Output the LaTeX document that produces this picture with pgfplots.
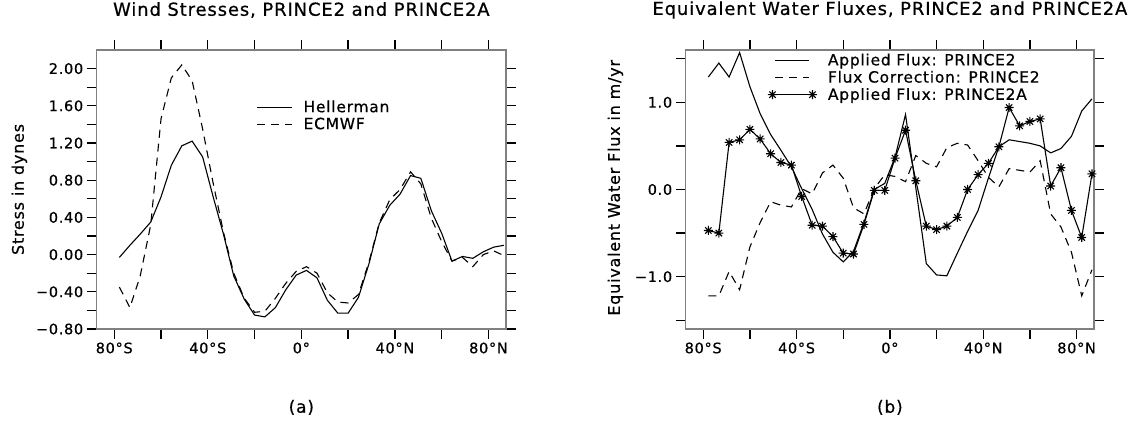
\documentclass[border=0pt]{standalone}
\usepackage{fontspec}
\setmainfont{DejaVu Sans}[LetterSpace=5, FakeBold=0.6]
\usepackage{pgfplots}
\pgfplotsset{compat=1.18}
\usepackage{pgfplotstable}

\pgfdeclareplotmark{ast8}{%
 \pgfpathmoveto{\pgfqpoint{-\pgfplotmarksize}{0pt}}\pgfpathlineto{\pgfqpoint{\pgfplotmarksize}{0pt}}%
 \pgfpathmoveto{\pgfqpoint{0pt}{-\pgfplotmarksize}}\pgfpathlineto{\pgfqpoint{0pt}{\pgfplotmarksize}}%
 \pgfpathmoveto{\pgfqpoint{-0.707\pgfplotmarksize}{-0.707\pgfplotmarksize}}\pgfpathlineto{\pgfqpoint{0.707\pgfplotmarksize}{0.707\pgfplotmarksize}}%
 \pgfpathmoveto{\pgfqpoint{-0.707\pgfplotmarksize}{0.707\pgfplotmarksize}}\pgfpathlineto{\pgfqpoint{0.707\pgfplotmarksize}{-0.707\pgfplotmarksize}}%
 \pgfusepathqstroke}

\pgfplotstableread{
lat   hel   ecm   ap2   fc2   ap2a
-77.8 -0.03 -0.35 1.29 -1.22 -0.47
-73.3 0.10 -0.57 1.45 -1.22 -0.50
-68.9 0.22 -0.23 1.29 -0.94 0.54
-64.4 0.35 0.32 1.57 -1.15 0.57
-60.0 0.62 1.46 1.18 -0.66 0.69
-55.6 0.96 1.90 0.87 -0.38 0.58
-51.1 1.17 2.04 0.63 -0.14 0.41
-46.7 1.22 1.87 0.45 -0.18 0.31
-42.2 1.05 1.35 0.26 -0.20 0.28
-37.8 0.63 0.78 0.01 0.01 -0.08
-33.3 0.22 0.24 -0.23 -0.05 -0.41
-28.9 -0.23 -0.20 -0.51 0.19 -0.42
-24.4 -0.48 -0.47 -0.72 0.28 -0.54
-20.0 -0.65 -0.62 -0.83 0.13 -0.73
-15.6 -0.67 -0.61 -0.71 -0.21 -0.74
-11.1 -0.57 -0.47 -0.38 -0.28 -0.40
-6.7 -0.38 -0.31 0.00 0.01 -0.01
-2.2 -0.22 -0.18 0.07 0.17 -0.01
2.2 -0.17 -0.13 0.37 0.15 0.36
6.7 -0.25 -0.20 0.86 0.09 0.68
11.1 -0.49 -0.41 0.02 0.39 0.10
15.6 -0.63 -0.51 -0.85 0.30 -0.42
20.0 -0.63 -0.52 -0.98 0.26 -0.46
24.4 -0.46 -0.43 -0.99 0.48 -0.42
28.9 -0.10 -0.08 -0.73 0.53 -0.32
33.3 0.33 0.34 -0.48 0.51 0.00
37.8 0.53 0.59 -0.24 0.33 0.17
42.2 0.65 0.70 0.13 0.14 0.30
46.7 0.85 0.89 0.49 0.03 0.49
51.1 0.82 0.76 0.57 0.24 0.94
55.6 0.47 0.39 0.55 0.22 0.73
60.0 0.23 0.14 0.53 0.20 0.78
64.4 -0.07 -0.07 0.50 0.33 0.81
68.9 -0.02 -0.03 0.42 -0.28 0.04
73.3 -0.04 -0.13 0.47 -0.43 0.25
77.8 0.03 0.00 0.61 -0.72 -0.24
82.2 0.08 0.04 0.90 -1.22 -0.55
86.6 0.10 -0.01 1.04 -0.92 0.18
}\datatable

\pgfplotsset{
  panel/.style={
    scale only axis, height=279bp,
    xmin=-87.5, xmax=87.5,
    xtick={-80,-60,...,80},
    xticklabels={80°S,,40°S,,0°,,40°N,,80°N},
    tick align=outside, xtick pos=both, ytick pos=both,
    major tick length=10bp, minor tick length=10bp,
    every tick/.style={black, line width=1.3bp},
    axis line style={gray, line width=1.3bp},
    tick label style={font=\fontsize{14.5}{16}\selectfont},
    title style={font=\fontsize{18}{20}\selectfont, anchor=center},
    ylabel style={font=\fontsize{16}{18}\selectfont, anchor=center},
    xlabel style={font=\fontsize{17}{19}\selectfont, anchor=center},
    legend style={draw=none, fill=none, anchor=north west, font=\fontsize{15.5}{17}\selectfont, inner sep=0pt, column sep=9bp, nodes={inner sep=2bp}},
    legend cell align=left,
  },
  curve/.style={black, line width=1.1bp},
  dcurve/.style={black, line width=1.1bp, dash pattern=on 8bp off 6bp},
  leftleg/.style={legend image code/.code={\draw[##1] (0bp,0bp) -- (35bp,0bp);}},
  lineleg/.style={legend image code/.code={\draw[##1] (3bp,0bp) -- (37bp,0bp);}},
  starleg/.style={legend image code/.code={\draw[##1] plot coordinates {(0bp,0bp) (40bp,0bp)};}},
}

\begin{document}
\begin{tikzpicture}
\useasboundingbox (0,0) rectangle (1138bp,422bp);
\begin{axis}[panel,
  at={(96.7bp,93bp)}, anchor=south west, width=409.3bp,
  ymin=-0.8, ymax=2.2,
  ytick={-0.8,-0.4,0,0.4,0.8,1.2,1.6,2.0},
  yticklabels={−0.80,−0.40,0.00,0.40,0.80,1.20,1.60,2.00},
  minor ytick={-0.6,-0.2,0.2,0.6,1.0,1.4,1.8},
  title={Wind Stresses, PRINCE2 and PRINCE2A},
  title style={at={(axis description cs:0.5,1.122)}},
  ylabel={Stress in dynes},
  ylabel style={at={(axis description cs:-0.189,0.5)}},
  xlabel={(a)},
  xlabel style={at={(axis description cs:0.5,-0.281)}},
  legend style={at={(axis description cs:0.39,0.827)}},
  leftleg,
]
\addplot[curve] table[x=lat,y=hel] {\datatable};
\addlegendentry{Hellerman}
\addplot[dcurve] table[x=lat,y=ecm] {\datatable};
\addlegendentry{ECMWF}
\end{axis}

\begin{axis}[panel,
  at={(685.7bp,93bp)}, anchor=south west, width=408.4bp,
  ymin=-1.6, ymax=1.6,
  ytick={-1,0,1},
  yticklabels={−1.0,0.0,1.0},
  minor ytick={-1.5,-0.5,0.5,1.5},
  title={Equivalent Water Fluxes, PRINCE2 and PRINCE2A},
  title style={at={(axis description cs:0.5,1.122)}},
  ylabel={Equivalent Water Flux in m/yr},
  ylabel style={at={(axis description cs:-0.172,0.506)}},
  xlabel={(b)},
  xlabel style={at={(axis description cs:0.5,-0.281)}},
  legend style={at={(axis description cs:0.201,0.995)}},
]
\addplot[curve, lineleg] table[x=lat,y=ap2] {\datatable};
\addlegendentry{Applied Flux: PRINCE2}
\addplot[dcurve, lineleg] table[x=lat,y=fc2] {\datatable};
\addlegendentry{Flux Correction: PRINCE2}
\addplot[curve, mark=ast8, mark size=4.5bp, mark options={solid, line width=1.1bp}, starleg] table[x=lat,y=ap2a] {\datatable};
\addlegendentry{Applied Flux: PRINCE2A}
\end{axis}
\end{tikzpicture}
\end{document}
